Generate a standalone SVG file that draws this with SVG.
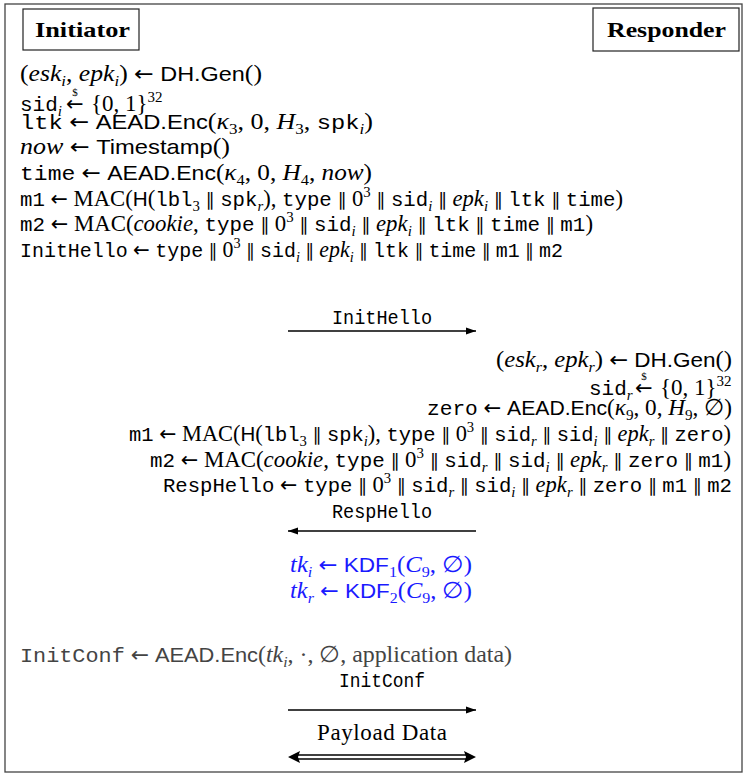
<svg xmlns="http://www.w3.org/2000/svg" width="748" height="781" viewBox="0 0 748 781">
  <style>
    text { font-family: "Liberation Serif", "DejaVu Serif", serif; font-size: 23px; fill: #000; }
    .title { font-weight: bold; font-size: 21px; }
    .mi { font-style: italic; }
    .sf { font-family: "Liberation Sans", "DejaVu Sans", sans-serif; font-size: 21px; }
    .tt { font-family: "Liberation Mono", "DejaVu Sans Mono", monospace; font-size: 21px; }
    .ar { font-family: "DejaVu Sans", sans-serif; font-size: 21px; }
    .par { font-family: "DejaVu Sans", sans-serif; font-size: 18px; }
    .sb { font-size: 15px; }
    .dollar { font-size: 11px; }
    .key { fill: #1a1aff; }
    .gray { fill: #444; }
    .box { fill: none; stroke: #222; stroke-width: 1.2; }
    .frame { fill: none; stroke: #444; stroke-width: 1.3; }
    .msg { stroke: #000; stroke-width: 1.3; fill: none; }
    .head { fill: #000; }
  </style>
  <defs>
    <marker id="arrowhead" viewBox="0 0 10 10" refX="10" refY="5" markerWidth="10" markerHeight="10" markerUnits="userSpaceOnUse" orient="auto-start-reverse">
      <path d="M0,1.5 L10,5 L0,8.5 z" class="head"/>
    </marker>
  </defs>

  <!-- outer frame -->
  <rect class="frame" x="5" y="4" width="737" height="768"/>

  <!-- parties -->
  <g id="initiator">
    <rect class="box" x="23" y="9" width="116" height="41"/>
    <text class="title" x="35" y="37" textLength="95" lengthAdjust="spacingAndGlyphs">Initiator</text>
  </g>
  <g id="responder">
    <rect class="box" x="593" y="8" width="146" height="43"/>
    <text class="title" x="607" y="37" textLength="119" lengthAdjust="spacingAndGlyphs">Responder</text>
  </g>

  <!-- initiator computations -->
  <g id="initiator-steps">
    <text x="20" y="81" textLength="242" lengthAdjust="spacingAndGlyphs">(<tspan class="mi">esk</tspan><tspan class="sb mi" dy="5">i</tspan><tspan dy="-5">, </tspan><tspan class="mi">epk</tspan><tspan class="sb mi" dy="5">i</tspan><tspan dy="-5">) </tspan><tspan class="ar">←</tspan> <tspan class="sf">DH.Gen</tspan>()</text>

    <text x="20" y="111"><tspan class="tt">sid</tspan><tspan class="sb mi" dy="5">i</tspan></text>
    <text class="ar" x="66" y="111">←</text>
    <text class="dollar" x="75" y="96" text-anchor="middle">$</text>
    <text x="91" y="111">{0, 1}<tspan class="sb" dy="-9">32</tspan></text>

    <text x="20" y="129" textLength="353" lengthAdjust="spacingAndGlyphs"><tspan class="tt">ltk</tspan> <tspan class="ar">←</tspan> <tspan class="sf">AEAD.Enc</tspan>(<tspan class="mi">κ</tspan><tspan class="sb" dy="5">3</tspan><tspan dy="-5">, 0, </tspan><tspan class="mi">H</tspan><tspan class="sb" dy="5">3</tspan><tspan dy="-5">, </tspan><tspan class="tt">spk</tspan><tspan class="sb mi" dy="5">i</tspan><tspan dy="-5">)</tspan></text>

    <text x="20" y="154" textLength="210" lengthAdjust="spacingAndGlyphs"><tspan class="mi">now</tspan> <tspan class="ar">←</tspan> <tspan class="sf">Timestamp</tspan>()</text>

    <text x="20" y="180" textLength="352" lengthAdjust="spacingAndGlyphs"><tspan class="tt">time</tspan> <tspan class="ar">←</tspan> <tspan class="sf">AEAD.Enc</tspan>(<tspan class="mi">κ</tspan><tspan class="sb" dy="5">4</tspan><tspan dy="-5">, 0, </tspan><tspan class="mi">H</tspan><tspan class="sb" dy="5">4</tspan><tspan dy="-5">, </tspan><tspan class="mi">now</tspan>)</text>

    <text x="20" y="206" textLength="603" lengthAdjust="spacingAndGlyphs"><tspan class="tt">m1</tspan> <tspan class="ar">←</tspan> MAC(<tspan class="sf">H</tspan>(<tspan class="tt">lbl</tspan><tspan class="sb" dy="5">3</tspan><tspan dy="-5"> </tspan><tspan class="par">∥</tspan> <tspan class="tt">spk</tspan><tspan class="sb mi" dy="5">r</tspan><tspan dy="-5">), </tspan><tspan class="tt">type</tspan> <tspan class="par">∥</tspan> 0<tspan class="sb" dy="-9">3</tspan><tspan dy="9"> </tspan><tspan class="par">∥</tspan> <tspan class="tt">sid</tspan><tspan class="sb mi" dy="5">i</tspan><tspan dy="-5"> </tspan><tspan class="par">∥</tspan> <tspan class="mi">epk</tspan><tspan class="sb mi" dy="5">i</tspan><tspan dy="-5"> </tspan><tspan class="par">∥</tspan> <tspan class="tt">ltk</tspan> <tspan class="par">∥</tspan> <tspan class="tt">time</tspan>)</text>

    <text x="20" y="231" textLength="573" lengthAdjust="spacingAndGlyphs"><tspan class="tt">m2</tspan> <tspan class="ar">←</tspan> MAC(<tspan class="mi">cookie</tspan>, <tspan class="tt">type</tspan> <tspan class="par">∥</tspan> 0<tspan class="sb" dy="-9">3</tspan><tspan dy="9"> </tspan><tspan class="par">∥</tspan> <tspan class="tt">sid</tspan><tspan class="sb mi" dy="5">i</tspan><tspan dy="-5"> </tspan><tspan class="par">∥</tspan> <tspan class="mi">epk</tspan><tspan class="sb mi" dy="5">i</tspan><tspan dy="-5"> </tspan><tspan class="par">∥</tspan> <tspan class="tt">ltk</tspan> <tspan class="par">∥</tspan> <tspan class="tt">time</tspan> <tspan class="par">∥</tspan> <tspan class="tt">m1</tspan>)</text>

    <text x="20" y="257" textLength="543" lengthAdjust="spacingAndGlyphs"><tspan class="tt">InitHello</tspan> <tspan class="ar">←</tspan> <tspan class="tt">type</tspan> <tspan class="par">∥</tspan> 0<tspan class="sb" dy="-9">3</tspan><tspan dy="9"> </tspan><tspan class="par">∥</tspan> <tspan class="tt">sid</tspan><tspan class="sb mi" dy="5">i</tspan><tspan dy="-5"> </tspan><tspan class="par">∥</tspan> <tspan class="mi">epk</tspan><tspan class="sb mi" dy="5">i</tspan><tspan dy="-5"> </tspan><tspan class="par">∥</tspan> <tspan class="tt">ltk</tspan> <tspan class="par">∥</tspan> <tspan class="tt">time</tspan> <tspan class="par">∥</tspan> <tspan class="tt">m1</tspan> <tspan class="par">∥</tspan> <tspan class="tt">m2</tspan></text>
  </g>

  <!-- responder computations -->
  <g id="responder-steps">
    <text x="496" y="367" textLength="236" lengthAdjust="spacingAndGlyphs">(<tspan class="mi">esk</tspan><tspan class="sb mi" dy="5">r</tspan><tspan dy="-5">, </tspan><tspan class="mi">epk</tspan><tspan class="sb mi" dy="5">r</tspan><tspan dy="-5">) </tspan><tspan class="ar">←</tspan> <tspan class="sf">DH.Gen</tspan>()</text>

    <text x="589" y="395"><tspan class="tt">sid</tspan><tspan class="sb mi" dy="5">r</tspan></text>
    <text class="ar" x="635" y="395">←</text>
    <text class="dollar" x="644" y="380" text-anchor="middle">$</text>
    <text x="660" y="395">{0, 1}<tspan class="sb" dy="-9">32</tspan></text>

    <text x="427" y="415" textLength="305" lengthAdjust="spacingAndGlyphs"><tspan class="tt">zero</tspan> <tspan class="ar">←</tspan> <tspan class="sf">AEAD.Enc</tspan>(<tspan class="mi">κ</tspan><tspan class="sb" dy="5">9</tspan><tspan dy="-5">, 0, </tspan><tspan class="mi">H</tspan><tspan class="sb" dy="5">9</tspan><tspan dy="-5">, ∅)</tspan></text>

    <text x="129" y="441" textLength="602" lengthAdjust="spacingAndGlyphs"><tspan class="tt">m1</tspan> <tspan class="ar">←</tspan> MAC(<tspan class="sf">H</tspan>(<tspan class="tt">lbl</tspan><tspan class="sb" dy="5">3</tspan><tspan dy="-5"> </tspan><tspan class="par">∥</tspan> <tspan class="tt">spk</tspan><tspan class="sb mi" dy="5">i</tspan><tspan dy="-5">), </tspan><tspan class="tt">type</tspan> <tspan class="par">∥</tspan> 0<tspan class="sb" dy="-9">3</tspan><tspan dy="9"> </tspan><tspan class="par">∥</tspan> <tspan class="tt">sid</tspan><tspan class="sb mi" dy="5">r</tspan><tspan dy="-5"> </tspan><tspan class="par">∥</tspan> <tspan class="tt">sid</tspan><tspan class="sb mi" dy="5">i</tspan><tspan dy="-5"> </tspan><tspan class="par">∥</tspan> <tspan class="mi">epk</tspan><tspan class="sb mi" dy="5">r</tspan><tspan dy="-5"> </tspan><tspan class="par">∥</tspan> <tspan class="tt">zero</tspan>)</text>

    <text x="150" y="467" textLength="581" lengthAdjust="spacingAndGlyphs"><tspan class="tt">m2</tspan> <tspan class="ar">←</tspan> MAC(<tspan class="mi">cookie</tspan>, <tspan class="tt">type</tspan> <tspan class="par">∥</tspan> 0<tspan class="sb" dy="-9">3</tspan><tspan dy="9"> </tspan><tspan class="par">∥</tspan> <tspan class="tt">sid</tspan><tspan class="sb mi" dy="5">r</tspan><tspan dy="-5"> </tspan><tspan class="par">∥</tspan> <tspan class="tt">sid</tspan><tspan class="sb mi" dy="5">i</tspan><tspan dy="-5"> </tspan><tspan class="par">∥</tspan> <tspan class="mi">epk</tspan><tspan class="sb mi" dy="5">r</tspan><tspan dy="-5"> </tspan><tspan class="par">∥</tspan> <tspan class="tt">zero</tspan> <tspan class="par">∥</tspan> <tspan class="tt">m1</tspan>)</text>

    <text x="163" y="492" textLength="569" lengthAdjust="spacingAndGlyphs"><tspan class="tt">RespHello</tspan> <tspan class="ar">←</tspan> <tspan class="tt">type</tspan> <tspan class="par">∥</tspan> 0<tspan class="sb" dy="-9">3</tspan><tspan dy="9"> </tspan><tspan class="par">∥</tspan> <tspan class="tt">sid</tspan><tspan class="sb mi" dy="5">r</tspan><tspan dy="-5"> </tspan><tspan class="par">∥</tspan> <tspan class="tt">sid</tspan><tspan class="sb mi" dy="5">i</tspan><tspan dy="-5"> </tspan><tspan class="par">∥</tspan> <tspan class="mi">epk</tspan><tspan class="sb mi" dy="5">r</tspan><tspan dy="-5"> </tspan><tspan class="par">∥</tspan> <tspan class="tt">zero</tspan> <tspan class="par">∥</tspan> <tspan class="tt">m1</tspan> <tspan class="par">∥</tspan> <tspan class="tt">m2</tspan></text>
  </g>

  <!-- traffic key derivation -->
  <g id="key-derivation">
    <text class="key" x="290" y="572" textLength="182" lengthAdjust="spacingAndGlyphs"><tspan class="mi">tk</tspan><tspan class="sb mi" dy="5">i</tspan><tspan dy="-5"> </tspan><tspan class="ar">←</tspan> <tspan class="sf">KDF</tspan><tspan class="sb" dy="5">1</tspan><tspan dy="-5">(</tspan><tspan class="mi">C</tspan><tspan class="sb" dy="5">9</tspan><tspan dy="-5">, ∅)</tspan></text>
    <text class="key" x="290" y="598" textLength="182" lengthAdjust="spacingAndGlyphs"><tspan class="mi">tk</tspan><tspan class="sb mi" dy="5">r</tspan><tspan dy="-5"> </tspan><tspan class="ar">←</tspan> <tspan class="sf">KDF</tspan><tspan class="sb" dy="5">2</tspan><tspan dy="-5">(</tspan><tspan class="mi">C</tspan><tspan class="sb" dy="5">9</tspan><tspan dy="-5">, ∅)</tspan></text>
  </g>

  <!-- initiator confirmation -->
  <g id="init-confirm">
    <text class="gray" x="20" y="662" textLength="492" lengthAdjust="spacingAndGlyphs"><tspan class="tt">InitConf</tspan> <tspan class="ar">←</tspan> <tspan class="sf">AEAD.Enc</tspan>(<tspan class="mi">tk</tspan><tspan class="sb mi" dy="5">i</tspan><tspan dy="-5">, ·, ∅, application data)</tspan></text>
  </g>

  <!-- messages on the wire -->
  <g id="messages">
    <text class="tt" x="332" y="324" textLength="100" lengthAdjust="spacingAndGlyphs">InitHello</text>
    <line class="msg" x1="288" y1="331" x2="476" y2="331" marker-end="url(#arrowhead)"/>

    <text class="tt" x="332" y="518" textLength="100" lengthAdjust="spacingAndGlyphs">RespHello</text>
    <line class="msg" x1="476" y1="531" x2="288" y2="531" marker-end="url(#arrowhead)"/>

    <text class="tt" x="339" y="687" textLength="86" lengthAdjust="spacingAndGlyphs">InitConf</text>
    <line class="msg" x1="288" y1="710" x2="476" y2="710" marker-end="url(#arrowhead)"/>

    <text x="382" y="740" text-anchor="middle" textLength="130">Payload Data</text>
    <line class="msg" x1="296" y1="755" x2="468" y2="755"/>
    <line class="msg" x1="296" y1="759" x2="468" y2="759"/>
    <path class="head" d="M288,757 L300,751 L298,757 L300,763 z"/>
    <path class="head" d="M476,757 L464,751 L466,757 L464,763 z"/>
  </g>
</svg>
